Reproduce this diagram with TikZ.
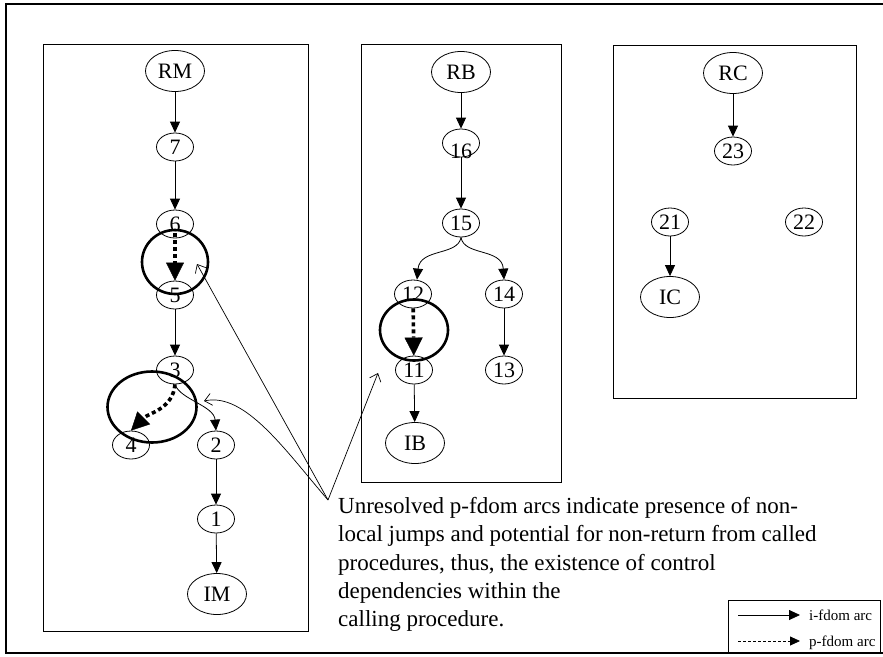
\documentclass[tikz,border=0pt]{standalone}
\usepackage{fontspec}
\setmainfont{Liberation Serif}
\usetikzlibrary{arrows.meta,shapes.geometric}
\begin{document}
\begin{tikzpicture}[x=1pt,y=-1pt,
  num/.style={draw, ellipse, line width=0.8pt, minimum width=37pt, minimum height=28pt,
    inner sep=0pt, font=\fontsize{22}{22}\selectfont},
  term/.style={num, minimum width=59pt, minimum height=41pt},
  ifdom/.style={line width=0.8pt, -{Triangle[length=11pt,width=10pt]}},
  pdom/.style={line width=3.6pt, dash pattern=on 4pt off 3pt,
    -{Triangle[length=18pt,width=18pt,line width=0.4pt]}},
  ring/.style={draw, ellipse, line width=2.6pt, inner sep=0pt},
  panel/.style={draw, line width=1pt},
  note/.style={line width=0.7pt, -{Straight Barb[length=7pt,width=12pt]}},
  legendtext/.style={anchor=base west, inner sep=0pt, font=\fontsize{15}{15}\selectfont},
]
\useasboundingbox (0,0) rectangle (883,656);

% outer frame (its right side lies past the page edge)
\draw[line width=1.6pt] (890,4) -- (6,4) -- (6,653) -- (890,653);

% the three procedure panels
\draw[panel] (43,44) rectangle (308,631);
\draw[panel] (361,44) rectangle (561,482);
\draw[panel] (613,45) rectangle (856,398);

% ---- procedure M ----
\node[term] (RM) at (175,71) {RM};
\node[num] (n7) at (175,147) {7};
\node[num] (n6) at (175,224) {6};
\node[num] (n5) at (175,295) {5};
\node[num] (n3) at (175,370) {3};
\node[num] (n4) at (131,445) {4};
\node[num] (n2) at (216,445) {2};
\node[num] (n1) at (216,519) {1};
\node[term] (IM) at (217,594) {IM};

\draw[ifdom] (RM) -- (n7);
\draw[ifdom] (n7) -- (n6);
\draw[ifdom] (n5) -- (n3);
\draw[ifdom] (n3.south) .. controls +(5,15) and +(-2,-25) .. (n2.north);
\draw[ifdom] (n2) -- (n1);
\draw[ifdom] (n1) -- (IM);
\draw[pdom, shorten <=-5pt] (n6) -- (n5);
\draw[pdom] (n3.south) to[out=-95,in=45] (n4.north);

\node[ring, minimum width=66pt, minimum height=64pt] (ringA) at (175,262) {};
\node[ring, minimum width=89pt, minimum height=71pt] (ringB) at (152,407) {};

% ---- procedure B ----
\node[term] (RB) at (461,72) {RB};
\node[num] (n16) at (461,143) {\raisebox{-15pt}[0pt][0pt]{16}};
\node[num] (n15) at (461,223) {15};
\node[num] (n12) at (413,294) {12};
\node[num] (n14) at (504,294) {14};
\node[num] (n11) at (414,370) {11};
\node[num] (n13) at (504,370) {13};
\node[term] (IB) at (415,443) {IB};

\draw[ifdom] (RB) -- (n16);
\draw[ifdom] (n16) -- (n15);
\draw[ifdom] (n15.south) .. controls (458,256) and (420,248) .. ([xshift=4pt]n12.north);
\draw[ifdom] (n15.south) .. controls (464,256) and (502,248) .. (n14.north);
\draw[ifdom] (n14) -- (n13);
\draw[ifdom] (n11) -- (IB);
\draw[pdom] (n12) -- (n11);

\node[ring, minimum width=68pt, minimum height=61pt] (ringC) at (414,330) {};

% ---- procedure C ----
\node[term] (RC) at (733,73) {RC};
\node[num] (n23) at (733,151) {23};
\node[num] (n21) at (670,222) {21};
\node[num] (n22) at (804,222) {22};
\node[term] (IC) at (670,297) {IC};

\draw[ifdom] (RC) -- (n23);
\draw[ifdom] (n21) -- (IC);

% ---- annotation ----
\node[anchor=north west, align=left, inner sep=0pt,
      font=\fontsize{23}{28.3}\selectfont] (note) at (338,497)
  {Unresolved p-fdom arcs indicate presence of non-\\
   local jumps and potential for non-return from called\\
   procedures, thus, the existence of control\\
   dependencies within the\\
   calling procedure.};

\coordinate (apex) at (328,500);
\coordinate (tipA) at (197,264);
\coordinate (tipB) at (204,401);
\coordinate (tipC) at (378,373);
\draw[note] (apex) -- (tipA);
\draw[note] (apex) .. controls (285,450) and (245,392) .. (tipB);
\draw[note] (apex) -- (tipC);

% ---- legend ----
\draw[line width=0.8pt] (728,600) rectangle (880,653);
\coordinate (ia) at (738,615);
\coordinate (ib) at (800,615);
\coordinate (pa) at (738,641);
\coordinate (pb) at (800,641);
\draw[ifdom] (ia) -- (ib);
\draw[line width=0.8pt, dash pattern=on 3pt off 2pt, -{Triangle[length=10pt,width=9pt]}] (pa) -- (pb);
\node[legendtext] (li) at (809,620) {i-fdom arc};
\node[legendtext] (lp) at (809,646) {p-fdom arc};
\end{tikzpicture}
\end{document}
